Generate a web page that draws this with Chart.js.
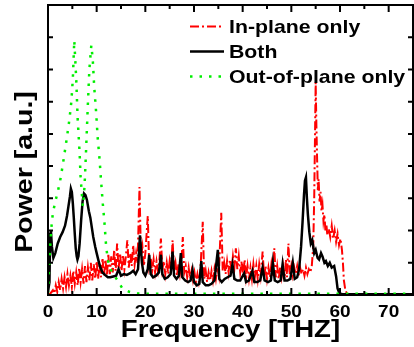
<!DOCTYPE html>
<html>
<head>
<meta charset="utf-8">
<script src="https://cdn.jsdelivr.net/npm/chart.js@4.4.1/dist/chart.umd.min.js"></script>
<style>
  html, body { margin: 0; padding: 0; background: #fff; }
  #wrap { width: 414px; height: 347px; }
</style>
</head>
<body>
<div id="wrap"><canvas id="spectrum" width="414" height="347"></canvas></div>
<script>
const seriesNames = ['In-plane only', 'Both', 'Out-of-plane only'];
const xTitle = 'Frequency [THZ]';
const yTitle = 'Power [a.u.]';

// in-plane only (red, dash-dot)
const inPlaneFreq = [
  0, 0.5, 1.0, 1.3, 1.6, 1.9, 2.2, 2.5, 2.8, 3.1, 3.4, 3.7, 4.0, 4.3, 4.6, 4.9,
  5.2, 5.5, 5.8, 6.1, 6.4, 6.7, 7.0, 7.3, 7.6, 7.9, 8.2, 8.5, 8.8, 9.1, 9.4, 9.7,
  10.0, 10.3, 10.6, 10.9, 11.2, 11.5, 11.8, 12.1, 12.4, 12.7, 13.0, 13.3, 13.6, 13.9,
  14.2, 14.5, 14.8, 15.1, 15.4, 15.7, 16.0, 16.3, 16.6, 16.9, 17.2, 17.5, 17.8, 18.1,
  18.4, 18.8, 19.1, 19.4, 19.7, 20.0, 20.5, 20.8, 21.1, 21.4, 21.7, 22.0, 22.3, 22.6,
  22.9, 23.2, 23.5, 23.8, 24.1, 24.4, 24.7, 25.0, 25.3, 25.6, 25.9, 26.2, 26.5, 26.8,
  27.1, 27.4, 27.7, 28.0, 28.3, 28.6, 28.9, 29.2, 29.5, 29.8, 30.1, 30.4, 30.7, 31.0,
  31.3, 31.8, 32.1, 32.4, 32.7, 33.0, 33.3, 33.6, 33.9, 34.2, 34.5, 34.8, 35.1, 35.6,
  35.9, 36.2, 36.5, 36.8, 37.1, 37.4, 37.7, 38.0, 38.3, 38.6, 38.9, 39.2, 39.5, 39.8,
  40.1, 40.4, 40.7, 41.0, 41.3, 41.6, 41.9, 42.2, 42.5, 42.8, 43.1, 43.4, 43.7, 44.1,
  44.4, 44.7, 45.0, 45.3, 45.6, 45.9, 46.2, 46.5, 46.8, 47.1, 47.4, 47.7, 48.0, 48.3,
  48.6, 48.9, 49.1, 49.4, 49.7, 50.0, 50.3, 50.6, 50.9, 51.2, 51.5, 51.8, 52.1, 52.4,
  52.7, 53.0, 53.3, 53.6, 53.9, 54.2, 54.5, 54.7, 54.85, 55.0, 55.15, 55.3, 55.45,
  55.6, 55.8, 56.0, 56.2, 56.4, 56.6, 56.8, 57.0, 57.2, 57.4, 57.7, 58.0, 58.3, 58.6,
  58.9, 59.2, 59.5, 59.8, 60.1, 60.4, 60.6, 60.8, 61.1, 61.5, 75
];
const inPlanePower = [
  0.0, 0.1, 0.3, 0.1, 0.6, 0.2, 0.8, 0.3, 1.0, 0.4, 1.1, 0.5, 1.3, 0.6, 1.2, 0.5,
  1.5, 0.7, 1.4, 0.6, 1.7, 0.8, 1.6, 0.7, 1.8, 0.8, 1.7, 0.9, 2.0, 0.9, 1.9, 1.0,
  2.1, 1.0, 2.0, 1.1, 2.3, 1.2, 2.2, 1.2, 2.5, 1.3, 2.4, 1.4, 2.8, 1.5,
  3.2, 1.6, 2.6, 1.5, 2.5, 1.6, 2.4, 3.4, 1.7, 2.6, 1.8, 3.1, 1.9, 2.6,
  2.0, 6.7, 2.4, 3.0, 1.8, 2.6, 4.9, 1.8, 2.3, 1.5, 2.2, 1.4, 2.1, 1.5,
  2.2, 3.5, 1.6, 2.1, 1.3, 2.0, 1.3, 2.1, 1.5, 3.4, 1.5, 2.0, 1.2, 1.9,
  1.3, 2.0, 3.6, 1.4, 1.8, 1.1, 1.7, 1.0, 1.5, 0.9, 1.4, 0.8, 1.3, 0.8,
  1.4, 4.55, 1.0, 1.5, 0.8, 1.4, 0.9, 1.5, 0.9, 1.6, 1.0, 1.7, 1.2, 5.1,
  1.5, 2.0, 1.3, 2.1, 1.4, 2.2, 1.5, 2.4, 1.7, 2.9, 1.6, 2.4, 1.4, 2.1,
  1.2, 2.2, 1.1, 1.8, 1.0, 1.7, 1.0, 1.9, 1.1, 1.8, 1.0, 1.9, 1.2, 2.7,
  1.1, 1.8, 1.0, 1.7, 1.1, 1.9, 1.2, 2.9, 1.1, 1.8, 1.0, 1.7, 1.1, 1.8,
  1.0, 2.2, 1.1, 3.2, 1.2, 1.8, 1.2, 1.7, 1.3, 1.8, 1.2, 1.7, 1.3, 1.6,
  1.2, 1.7, 1.3, 1.6, 1.4, 1.8, 3.0, 6.0, 9.5, 13.2, 10.5, 8.4, 6.5,
  7.2, 5.8, 6.4, 5.2, 5.6, 4.6, 5.0, 4.0, 4.4, 3.7, 4.1, 3.6, 4.3, 3.5,
  4.0, 3.3, 3.8, 3.1, 3.5, 2.8, 2.0, 0.9, 0.3, 0.05, 0.05
];

// both (black, solid)
const bothFreq = [
  0, 0.3, 0.45, 0.6, 0.8, 1.1, 1.5, 2.0, 2.5, 3.0, 3.5, 3.9, 4.2, 4.5, 4.7, 4.9,
  5.1, 5.3, 5.5, 5.7, 5.9, 6.05, 6.25, 6.5, 6.8, 7.1, 7.4, 7.7, 8.0, 8.4, 8.7, 9.0,
  9.3, 9.7, 10.0, 10.4, 10.7, 11.2, 11.7, 12.3, 12.8, 13.4, 14.0, 14.5, 15.0, 15.6,
  16.2, 16.9, 17.5, 18.0, 18.5, 18.9, 19.3, 19.6, 20.0, 20.5, 20.8, 21.1, 21.6, 22.2,
  22.8, 23.2, 23.5, 24.0, 24.6, 25.2, 25.6, 25.9, 26.4, 26.9, 27.3, 27.6, 28.2, 28.8,
  29.3, 29.7, 30.0, 30.6, 31.1, 31.5, 31.8, 32.4, 33.0, 33.6, 34.2, 34.9, 35.2, 35.7,
  36.3, 36.9, 37.5, 37.9, 38.3, 38.9, 39.5, 40.3, 40.7, 41.3, 42.0, 42.4, 43.0, 43.6,
  44.1, 44.5, 45.2, 45.8, 46.2, 46.6, 47.2, 47.8, 48.2, 48.6, 49.2, 49.8, 50.3, 50.7,
  51.2, 51.6, 52.0, 52.3, 52.6, 52.8, 53.0, 53.2, 53.4, 53.7, 54.0, 54.3, 54.7, 55.0,
  55.4, 55.7, 56.1, 56.4, 56.8, 57.1, 57.5, 57.9, 58.3, 58.8, 59.2, 59.5, 59.9, 60.5, 75
];
const bothPower = [
  0.2, 0.8, 3.8, 4.0, 3.0, 2.3, 2.6, 3.2, 3.6, 3.9, 4.3, 4.9, 5.5, 6.1, 6.6, 6.4,
  5.7, 4.8, 3.8, 2.9, 2.4, 2.2, 2.4, 3.2, 4.6, 5.8, 6.3, 6.2, 5.9, 5.2, 4.8, 4.2,
  3.6, 3.0, 2.6, 2.1, 1.75, 1.4, 1.25, 1.1, 1.1, 1.15, 1.2, 1.6, 1.2, 1.3,
  1.25, 1.35, 1.5, 1.3, 1.6, 3.7, 2.0, 1.4, 1.2, 1.6, 2.5, 1.3, 1.1, 1.2,
  1.4, 2.5, 1.3, 1.0, 1.1, 1.3, 2.7, 1.2, 1.0, 1.2, 2.6, 1.1, 0.9, 0.8,
  0.9, 1.55, 0.8, 0.6, 0.7, 2.1, 0.8, 0.6, 0.6, 0.7, 0.9, 2.8, 1.0, 0.8,
  1.0, 1.1, 1.2, 1.9, 1.0, 0.9, 0.9, 1.35, 0.8, 0.9, 1.5, 0.8, 0.8, 0.9,
  1.7, 0.9, 0.8, 0.9, 2.0, 0.9, 0.8, 0.9, 1.9, 0.9, 0.9, 1.0, 2.0, 1.0,
  1.1, 1.6, 3.0, 4.5, 6.2, 7.1, 7.3, 6.0, 5.0, 3.9, 3.2, 3.4, 2.6, 2.8,
  2.3, 2.2, 2.6, 2.4, 2.0, 2.1, 1.8, 2.0, 1.7, 1.8, 1.15, 0.4, 0.1, 0.05, 0.05
];

// out-of-plane only (green, dotted)
const outPlaneFreq = [
  0, 0.2, 0.4, 0.7, 1.0, 1.5, 2.0, 2.5, 3.0, 3.4, 3.9, 4.4, 4.8, 5.1, 5.4, 5.8,
  6.1, 6.5, 6.7, 7.0, 7.15, 7.5, 7.8, 8.2, 8.5, 8.9, 9.2, 9.5, 9.9, 10.2, 10.6, 10.9,
  11.25, 11.6, 11.95, 12.3, 12.6, 13.3, 14.3, 15.3, 16.7, 18.0, 20, 30, 40, 50, 60, 75
];
const outPlanePower = [
  0.1, 1.5, 2.8, 4.2, 5.1, 5.8, 6.4, 7.1, 8.0, 8.8, 9.8, 10.9, 12.0, 13.4, 15.8, 13.4,
  10.9, 8.8, 7.3, 6.1, 5.5, 6.7, 8.8, 11.9, 14.0, 15.5, 14.6, 12.9, 11.3, 9.8, 8.4, 7.1,
  5.7, 4.5, 3.0, 2.2, 1.75, 1.35, 0.9, 0.4, 0.2, 0.1, 0.08, 0.08, 0.08, 0.08, 0.08, 0.08
];

const xMin = 0, xMax = 75, xStep = 5;
const yMin = 0, yMax = 18, yStep = 1;

const FONT = '"Liberation Sans", Arial, sans-serif';

function pairs(xs, ys) {
  return xs.map((v, i) => ({ x: v, y: ys[i] }));
}

function stretchText(ctx, text, x, y, size, sx, align, rot) {
  ctx.save();
  ctx.translate(x, y);
  if (rot) ctx.rotate(rot);
  ctx.scale(sx, 1);
  ctx.font = 'bold ' + size + 'px ' + FONT;
  ctx.textAlign = align;
  ctx.textBaseline = 'alphabetic';
  ctx.fillStyle = '#000';
  ctx.fillText(text, 0, 0);
  ctx.restore();
}

const styles = [
  { color: '#ff0000', width: 2, dash: [9, 3, 2, 3] },
  { color: '#000000', width: 2.5, dash: [] },
  { color: '#00ee00', width: 2.5, dash: [2.5, 7] }
];

const framePlugin = {
  id: 'framePlugin',
  afterDatasetsDraw(chart) {
    const { ctx, chartArea: a, scales: { x, y } } = chart;
    ctx.save();
    ctx.strokeStyle = '#000';
    ctx.lineWidth = 2;
    ctx.beginPath();
    x.ticks.forEach(t => {
      const px = x.getPixelForValue(t.value);
      const len = t.value % 10 === 0 ? 7 : 4;
      ctx.moveTo(px, a.bottom); ctx.lineTo(px, a.bottom - len);
      ctx.moveTo(px, a.top); ctx.lineTo(px, a.top + len);
    });
    y.ticks.forEach(t => {
      const py = y.getPixelForValue(t.value);
      ctx.moveTo(a.left, py); ctx.lineTo(a.left + 5, py);
      ctx.moveTo(a.right, py); ctx.lineTo(a.right - 5, py);
    });
    ctx.stroke();
    ctx.strokeRect(a.left, a.top, a.right - a.left, a.bottom - a.top);
    ctx.restore();

    // tick labels
    x.ticks.forEach(t => {
      if (t.value % 10 !== 0 || t.value >= xMax) return;
      stretchText(ctx, String(t.value), x.getPixelForValue(t.value), a.bottom + 22, 17, 1.12, 'center');
    });
    // axis titles
    stretchText(ctx, xTitle, (a.left + a.right) / 2, a.bottom + 42, 23, 1.2, 'center');
    stretchText(ctx, yTitle, 32, 172, 23, 1.24, 'center', -Math.PI / 2);

    // legend
    const rows = [33, 58, 83];
    seriesNames.forEach((name, i) => {
      const s = styles[i];
      const ly = rows[i] - 6.5;
      ctx.save();
      ctx.strokeStyle = s.color;
      ctx.lineWidth = s.width;
      ctx.setLineDash(s.dash);
      ctx.beginPath();
      ctx.moveTo(190, ly);
      ctx.lineTo(224, ly);
      ctx.stroke();
      ctx.restore();
      stretchText(ctx, name, 229, rows[i], 19, 1.12, 'left');
    });
  }
};

const datasets = [
  { label: seriesNames[0], data: pairs(inPlaneFreq, inPlanePower), order: 3 },
  { label: seriesNames[1], data: pairs(bothFreq, bothPower), order: 2 },
  { label: seriesNames[2], data: pairs(outPlaneFreq, outPlanePower), order: 1 }
].map((d, i) => Object.assign(d, {
  borderColor: styles[i].color,
  borderWidth: styles[i].width,
  borderDash: styles[i].dash,
  pointRadius: 0,
  tension: 0,
  fill: false
}));

new Chart(document.getElementById('spectrum'), {
  type: 'line',
  data: { datasets },
  options: {
    responsive: false,
    animation: false,
    layout: { padding: { left: 48, top: 5, right: 1, bottom: 52 } },
    plugins: { legend: { display: false }, tooltip: { enabled: false } },
    scales: {
      x: {
        type: 'linear', display: false, min: xMin, max: xMax,
        ticks: { stepSize: xStep }
      },
      y: {
        display: false, min: yMin, max: yMax,
        ticks: { stepSize: yStep }
      }
    }
  },
  plugins: [framePlugin]
});
</script>
</body>
</html>
